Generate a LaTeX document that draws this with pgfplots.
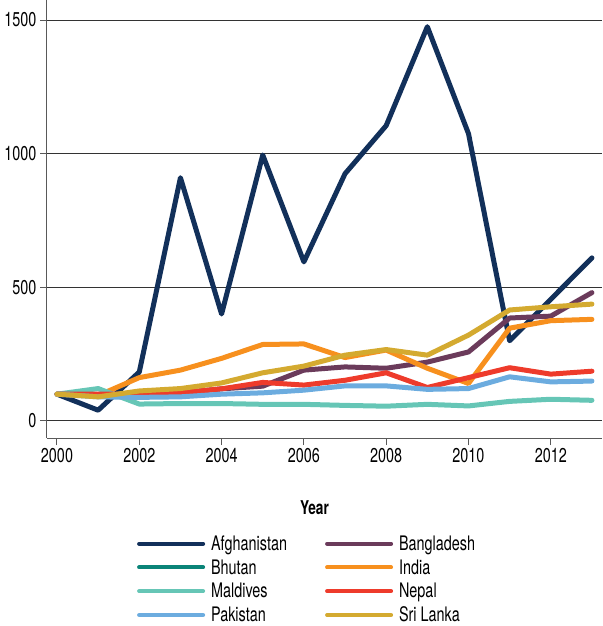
\documentclass[border=0pt]{standalone}
\usepackage{fontspec}
\setmainfont{TeX Gyre Heros}[FakeStretch=0.72]
\usepackage{pgfplots}
\pgfplotsset{compat=1.18}

\definecolor{afg}{HTML}{12305A}
\definecolor{bgd}{HTML}{6B3B5B}
\definecolor{btn}{HTML}{0A8478}
\definecolor{ind}{HTML}{F7901E}
\definecolor{mdv}{HTML}{66C6B6}
\definecolor{npl}{HTML}{EE3B2B}
\definecolor{pak}{HTML}{6CACDF}
\definecolor{lka}{HTML}{D4AA30}

\begin{document}
\begin{tikzpicture}
\path[use as bounding box] (-47pt,-188pt) rectangle (555pt,438pt);
\begin{axis}[
  at={(0,0)}, anchor=south west,
  scale only axis, width=555pt, height=438pt,
  xmin=1999.757, xmax=2013.245, ymin=-64, ymax=1575,
  axis lines=left,
  axis line style={-, draw=black!65, line width=1pt},
  xtick={2000,2002,...,2012}, ytick={0,500,1000,1500},
  ymajorgrids, grid style={black!80, line width=0.9pt},
  tick align=outside, major tick length=7pt,
  tick style={black!65, line width=1pt},
  /pgf/number format/1000 sep={},
  /pgf/number format/assume math mode=true,
  font=\fontsize{20}{22}\selectfont,
  xlabel={Year},
  xlabel style={font=\fontsize{19}{21}\selectfont\bfseries,
    at={(axis description cs:0.482,0)}, anchor=center, yshift=-70pt},
  every axis plot/.append style={line width=5pt, line join=round, line cap=round},
  legend columns=2,
  legend cell align=left,
  legend image code/.code={\draw[#1, line width=4pt] (0pt,0pt) -- (64pt,0pt);},
  legend style={draw=none, fill=none, inner sep=0pt, row sep=3.6pt,
    at={(rel axis cs:0.162,-0.218)}, anchor=north west,
    font=\fontsize{20}{22}\selectfont,
    /tikz/every odd column/.append style={column sep=4pt},
    /tikz/every even column/.append style={column sep=36pt}},
]
\addplot[afg] coordinates {(2000,100) (2001,40) (2002,183) (2003,910) (2004,400) (2005,995) (2006,595) (2007,925) (2008,1105) (2009,1475) (2010,1075) (2011,300) (2012,455) (2013,610)};
\addlegendentry{Afghanistan}
\addplot[bgd] coordinates {(2000,100) (2001,95) (2002,100) (2003,105) (2004,120) (2005,130) (2006,190) (2007,202) (2008,197) (2009,220) (2010,258) (2011,385) (2012,392) (2013,480)};
\addlegendentry{Bangladesh}
\addlegendimage{btn}
\addlegendentry{Bhutan}
\addplot[ind] coordinates {(2000,100) (2001,95) (2002,162) (2003,190) (2004,234) (2005,286) (2006,288) (2007,237) (2008,265) (2009,197) (2010,140) (2011,347) (2012,375) (2013,380)};
\addlegendentry{India}
\addplot[mdv] coordinates {(2000,100) (2001,121) (2002,63) (2003,65) (2004,65) (2005,62) (2006,62) (2007,58) (2008,55) (2009,62) (2010,56) (2011,73) (2012,81) (2013,77)};
\addlegendentry{Maldives}
\addplot[npl] coordinates {(2000,100) (2001,100) (2002,100) (2003,105) (2004,120) (2005,144) (2006,134) (2007,152) (2008,180) (2009,125) (2010,162) (2011,199) (2012,175) (2013,186)};
\addlegendentry{Nepal}
\addplot[pak] coordinates {(2000,100) (2001,90) (2002,88) (2003,90) (2004,100) (2005,105) (2006,115) (2007,131) (2008,131) (2009,118) (2010,121) (2011,165) (2012,146) (2013,149)};
\addlegendentry{Pakistan}
\addplot[lka] coordinates {(2000,100) (2001,90) (2002,112) (2003,121) (2004,142) (2005,180) (2006,205) (2007,246) (2008,267) (2009,246) (2010,321) (2011,415) (2012,427) (2013,437)};
\addlegendentry{Sri Lanka}
\end{axis}
\end{tikzpicture}
\end{document}
